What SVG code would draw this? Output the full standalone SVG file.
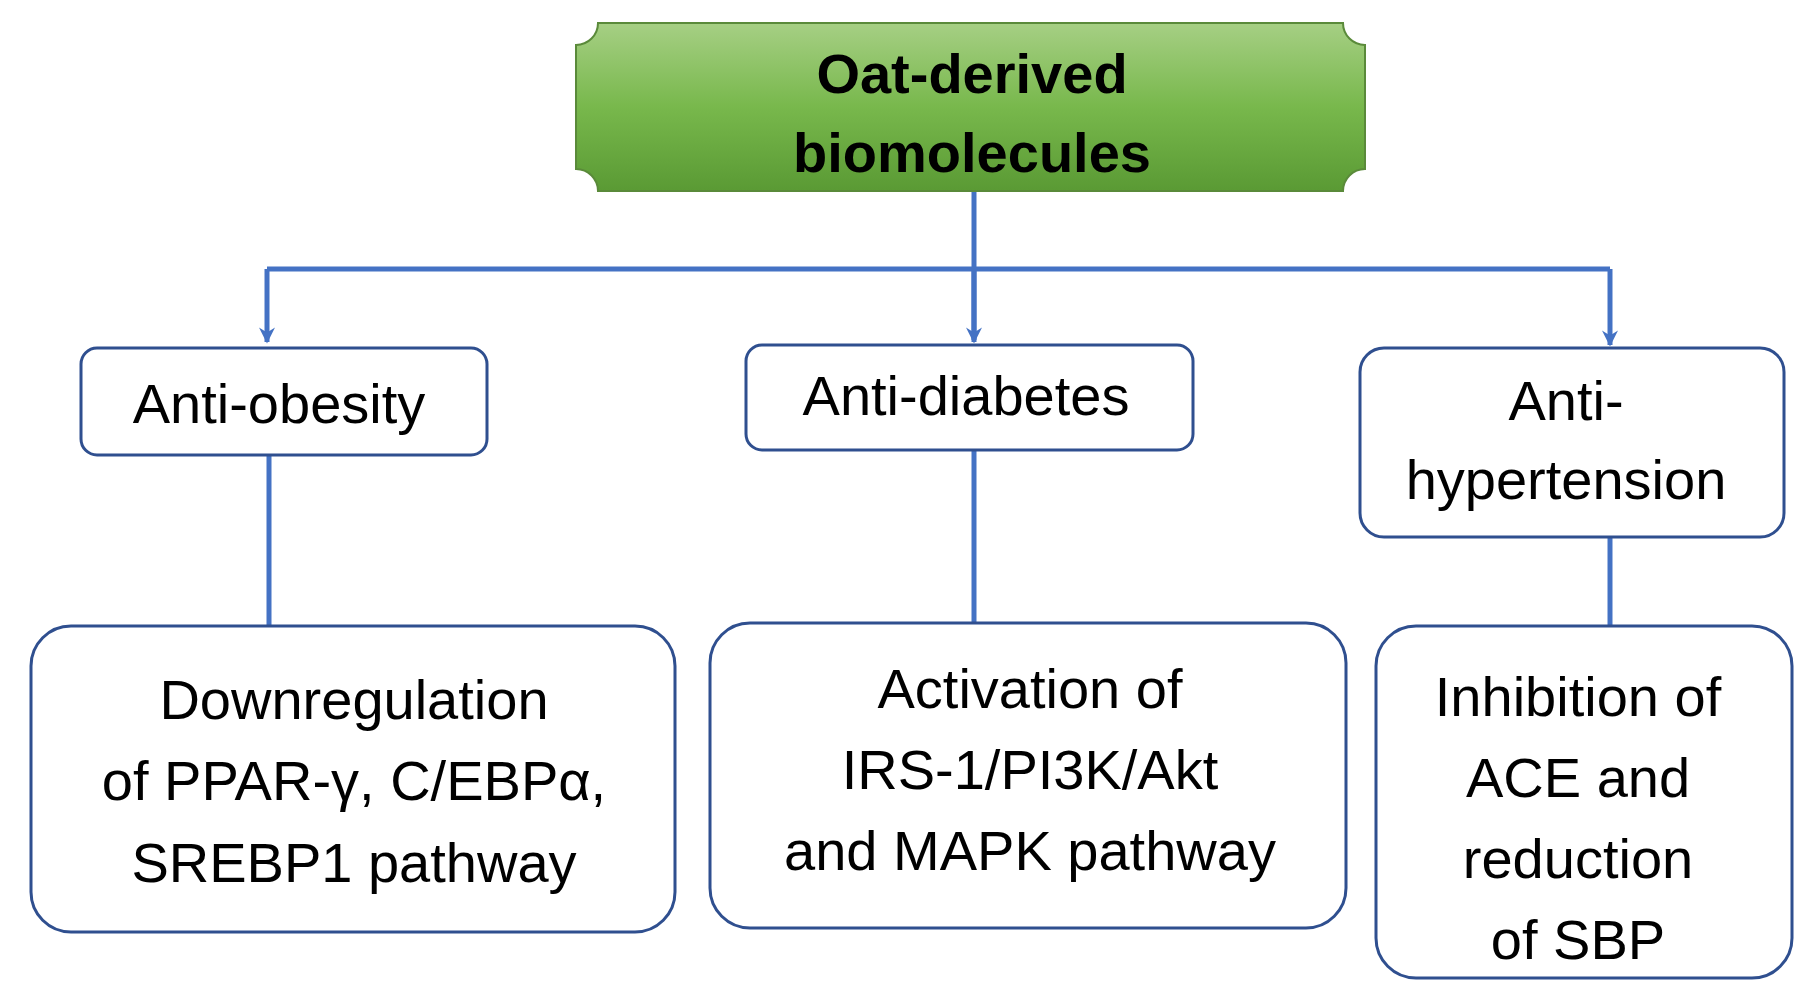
<svg xmlns="http://www.w3.org/2000/svg" width="1818" height="1004" viewBox="0 0 1818 1004">
<defs>
<linearGradient id="g" x1="0" y1="0" x2="0" y2="1"><stop offset="0" stop-color="#a6cf84"/><stop offset="0.5" stop-color="#78b84c"/><stop offset="1" stop-color="#5a9a34"/></linearGradient>
<marker id="a" viewBox="0 0 10 10" refX="9" refY="5" markerWidth="6" markerHeight="6" orient="auto" markerUnits="userSpaceOnUse"><path d="M0,0 L10,5 L0,10 z" fill="#4472c4"/></marker>
<marker id="ar" viewBox="0 0 10 10" refX="9" refY="5" markerWidth="18" markerHeight="16" orient="auto" markerUnits="userSpaceOnUse"><path d="M0,0 L10,5 L0,10 L3,5 z" fill="#4472c4"/></marker>
</defs>
<style>
.b{fill:#fff;stroke:#2f4f8f;stroke-width:3}
.t{font-family:"Liberation Sans",Arial,sans-serif;font-size:56px;fill:#000;text-anchor:middle}
.c{fill:none;stroke:#4472c4;stroke-width:5}
</style>
<rect width="1818" height="1004" fill="#fff"/>
<g id="connectors">
<path class="c" d="M974,191 V340"/>
<path class="c" d="M267,269 H1610"/>
<path class="c" d="M267,269 V342" marker-end="url(#ar)"/>
<path class="c" d="M974,269 V342" marker-end="url(#ar)"/>
<path class="c" d="M1610,269 V345" marker-end="url(#ar)"/>
<path class="c" d="M269,455 V626"/>
<path class="c" d="M974,450 V623"/>
<path class="c" d="M1610,537 V626"/>
</g>
<g id="top">
<path d="M598,23 H1343 A22,22 0 0 0 1365,45 V169 A22,22 0 0 0 1343,191 H598 A22,22 0 0 0 576,169 V45 A22,22 0 0 0 598,23 Z" fill="url(#g)" stroke="#5a8a3a" stroke-width="2"/>
<text class="t" x="972" y="93" font-weight="bold" font-size="60">Oat-derived</text>
<text class="t" x="972" y="172" font-weight="bold" font-size="60">biomolecules</text>
</g>
<g id="obesity">
<rect class="b" x="81" y="348" width="406" height="107" rx="16"/>
<text class="t" x="279" y="423">Anti-obesity</text>
</g>
<g id="diabetes">
<rect class="b" x="746" y="345" width="447" height="105" rx="16"/>
<text class="t" x="966" y="415">Anti-diabetes</text>
</g>
<g id="hypertension">
<rect class="b" x="1360" y="348" width="424" height="189" rx="24"/>
<text class="t" x="1566" y="420">Anti-</text>
<text class="t" x="1566" y="499">hypertension</text>
</g>
<g id="obesity-mech">
<rect class="b" x="31" y="626" width="644" height="306" rx="40"/>
<text class="t" x="354" y="719">Downregulation</text>
<text class="t" x="354" y="800">of PPAR-γ, C/EBPα,</text>
<text class="t" x="354" y="882">SREBP1 pathway</text>
</g>
<g id="diabetes-mech">
<rect class="b" x="710" y="623" width="636" height="305" rx="40"/>
<text class="t" x="1030" y="708">Activation  of</text>
<text class="t" x="1030" y="789">IRS-1/PI3K/Akt</text>
<text class="t" x="1030" y="870">and MAPK pathway</text>
</g>
<g id="hypertension-mech">
<rect class="b" x="1376" y="626" width="416" height="352" rx="40"/>
<text class="t" x="1578" y="716">Inhibition of</text>
<text class="t" x="1578" y="797">ACE and</text>
<text class="t" x="1578" y="878">reduction</text>
<text class="t" x="1578" y="959">of SBP</text>
</g>
</svg>
